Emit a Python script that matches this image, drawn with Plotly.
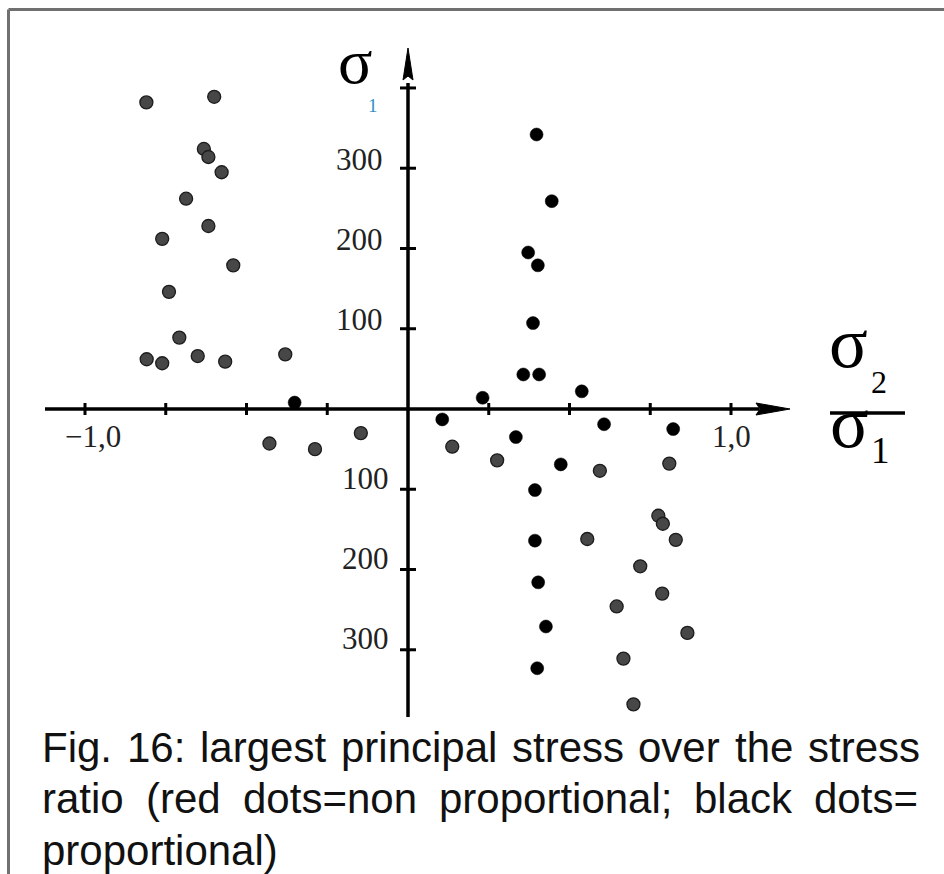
import plotly.graph_objects as go

# ---------------- data ----------------
# stress ratio sigma2/sigma1 (x) and largest principal stress sigma1 (y)
nonprop_ratio = [-0.810, -0.600, -0.632, -0.618, -0.577, -0.687, -0.618, -0.761, -0.541,
                 -0.740, -0.708, -0.809, -0.761, -0.651, -0.566, -0.380, -0.429, -0.288,
                 -0.146, 0.137, 0.276, 0.594, 0.809, 0.555, 0.775, 0.789, 0.829, 0.719,
                 0.787, 0.646, 0.865, 0.667, 0.698]
nonprop_stress = [382, 389, 324, 314, 295, 262, 228, 212, 179,
                  146, 89, 62, 57, 66, 59, 68, -43, -50,
                  -30, -47, -64, -77, -68, -162, -133, -143, -163, -196,
                  -230, -246, -279, -311, -368]

prop_ratio = [0.398, 0.445, 0.372, 0.402, 0.387, 0.357, 0.406, 0.231, 0.538, 0.106,
              0.607, 0.821, 0.334, 0.473, 0.393, 0.393, 0.403, 0.427, 0.400, -0.351]
prop_stress = [342, 259, 195, 179, 107, 43, 43, 14, 22, -13,
               -19, -25, -35, -69, -101, -164, -216, -271, -323, 8]

x_ticks = [-1.0, -0.75, -0.5, -0.25, 0.25, 0.5, 0.75, 1.0]
x_tick_text = {-1.0: "\u22121,0", 1.0: "1,0"}
y_ticks = [400, 300, 200, 100, -100, -200, -300]
y_tick_text = {300: "300", 200: "200", 100: "100", -100: "100", -200: "200", -300: "300"}

caption_lines = [
    ["Fig.", "16:", "largest", "principal", "stress", "over", "the", "stress"],
    ["ratio", "(red", "dots=non", "proportional;", "black", "dots="],
    ["proportional)"],
]

# ---------------- layout helpers ----------------
W, H = 944, 874
X0_PX, X_SCALE = 408.0, 323.0        # pixel of x=0, pixels per unit
Y0_PX, Y_SCALE = 409.0, 0.8026       # pixel of y=0, pixels per unit
PXX = 1.0 / X_SCALE
PXY = 1.0 / Y_SCALE
x_range = [-X0_PX / X_SCALE, (W - X0_PX) / X_SCALE]
y_range = [-(H - Y0_PX) / Y_SCALE, Y0_PX / Y_SCALE]


def paper(px, py):
    return px / W, 1 - py / H


fig = go.Figure()
fig.add_trace(go.Scatter(
    x=nonprop_ratio, y=nonprop_stress, mode="markers", name="non proportional",
    marker=dict(size=13, color="#474747", line=dict(color="#1c1c1c", width=1.3)),
))
fig.add_trace(go.Scatter(
    x=prop_ratio, y=prop_stress, mode="markers", name="proportional",
    marker=dict(size=13, color="#000000", line=dict(color="#000000", width=0.5)),
))

shapes = []
AX = dict(color="#000000", width=3.5)
# x axis line
x_tip = (790 - X0_PX) / X_SCALE
x_base = (756 - X0_PX) / X_SCALE
shapes.append(dict(type="line", xref="x", yref="y", x0=(45 - X0_PX) / X_SCALE, x1=x_base + 3 * PXX,
                   y0=0, y1=0, line=AX, layer="below"))
shapes.append(dict(type="path", xref="x", yref="y",
                   path=f"M {x_base},{6 * PXY} L {x_tip},0 L {x_base},{-6 * PXY} L {x_base + 4 * PXX},0 Z",
                   fillcolor="#000000", line=dict(color="#000000", width=1), layer="below"))
# y axis line
y_tip = (Y0_PX - 48) / Y_SCALE
y_base = (Y0_PX - 80) / Y_SCALE
shapes.append(dict(type="line", xref="x", yref="y", x0=0, x1=0,
                   y0=-(717 - Y0_PX) / Y_SCALE, y1=y_base - 3 * PXY, line=AX, layer="below"))
shapes.append(dict(type="path", xref="x", yref="y",
                   path=f"M {-5 * PXX},{y_base} L 0,{y_tip} L {5 * PXX},{y_base} L 0,{y_base + 4 * PXY} Z",
                   fillcolor="#000000", line=dict(color="#000000", width=1), layer="below"))
# ticks
for t in x_ticks:
    shapes.append(dict(type="line", xref="x", yref="y", x0=t, x1=t, y0=-6 * PXY, y1=6 * PXY,
                       line=dict(color="#000000", width=3), layer="below"))
for t in y_ticks:
    shapes.append(dict(type="line", xref="x", yref="y", x0=-8 * PXX, x1=8 * PXX, y0=t, y1=t,
                       line=dict(color="#000000", width=3), layer="below"))
# fraction bar of the x label
bx0, by = paper(830, 413)
bx1, _ = paper(905, 413)
shapes.append(dict(type="line", xref="paper", yref="paper", x0=bx0, x1=bx1, y0=by, y1=by,
                   line=dict(color="#000000", width=3.5)))
# frame (scanned page border)
fx, fy = paper(8.5, 9.5)
shapes.append(dict(type="line", xref="paper", yref="paper", x0=fx, x1=1, y0=fy, y1=fy,
                   line=dict(color="#707070", width=3)))
shapes.append(dict(type="line", xref="paper", yref="paper", x0=fx, x1=fx, y0=0, y1=fy,
                   line=dict(color="#707070", width=3)))

annotations = []
SERIF = "Liberation Serif, Times New Roman, serif"
SANS = "Liberation Sans, Arial, sans-serif"
TICK_FONT = dict(family=SERIF, size=31, color="#222222")

for t, txt in x_tick_text.items():
    annotations.append(dict(xref="x", yref="y", x=t, y=0, text=txt, showarrow=False,
                            xanchor="center", yanchor="middle", yshift=-27,
                            xshift=8 if t < 0 else 0, font=TICK_FONT))
for t, txt in y_tick_text.items():
    annotations.append(dict(xref="x", yref="y", x=0, y=t, text=txt, showarrow=False,
                            xanchor="right", yanchor="middle", yshift=9 if t > 0 else 11,
                            xshift=-23 if t > 0 else -17, font=TICK_FONT))


def label(txt, px, py, size, color="#000000", family=SERIF, anchor="center"):
    ax, ay = paper(px, py)
    annotations.append(dict(xref="paper", yref="paper", x=ax, y=ay, text=txt, showarrow=False,
                            xanchor=anchor, yanchor="middle",
                            font=dict(family=family, size=size, color=color)))


# sigma_1 label of the vertical axis
label("\u03c3", 355, 62, 64)
label("1", 372.5, 105, 19, color="#2f8fc8")
# sigma_2 / sigma_1 label of the horizontal axis
label("\u03c3", 848, 343, 72)
label("2", 879, 382, 32)
label("\u03c3", 849, 423, 72)
label("1", 880, 451, 37)

# caption (justified)
caption_lefts = [
    [40, 125, 198, 339, 510, 636, 733, 806],
    [40, 144, 241, 437, 692, 812],
    [40],
]
caption_y = [747, 798, 850]
for words, lefts, cy in zip(caption_lines, caption_lefts, caption_y):
    for w, lx in zip(words, lefts):
        label(w, lx, cy, 42, color="#111111", family=SANS, anchor="left")

fig.update_layout(
    width=W, height=H, margin=dict(l=0, r=0, t=0, b=0),
    paper_bgcolor="white", plot_bgcolor="white", showlegend=False,
    xaxis=dict(range=x_range, visible=False, showgrid=False, zeroline=False, fixedrange=True),
    yaxis=dict(range=y_range, visible=False, showgrid=False, zeroline=False, fixedrange=True),
    shapes=shapes, annotations=annotations,
)

fig.write_html("out.html", config={"displayModeBar": False},
               post_script="document.body.style.margin='0px';")
